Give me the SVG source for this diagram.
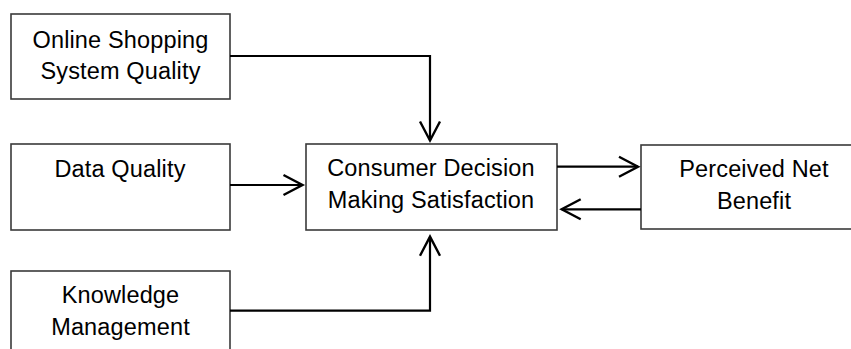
<svg xmlns="http://www.w3.org/2000/svg" width="851" height="349" viewBox="0 0 851 349">
  <defs>
    <style>
      .box { fill: #ffffff; stroke: #3a3a3a; stroke-width: 1.6; }
      .lbl { font-family: "Liberation Sans", Arial, sans-serif; font-size: 23.5px; letter-spacing: 0.15px; fill: #000000; text-anchor: middle; }
      .conn { fill: none; stroke: #000000; stroke-width: 2.2; }
    </style>
    <marker id="arrow" markerUnits="userSpaceOnUse" viewBox="-22 -12 24 24" refX="0" refY="0" markerWidth="24" markerHeight="24" orient="auto" overflow="visible">
      <path d="M-19,-10 L0,0 L-19,10" fill="none" stroke="#000000" stroke-width="2.4"/>
    </marker>
  </defs>
  <rect width="851" height="349" fill="#ffffff"/>

  <g id="online-shopping">
    <rect class="box" x="11" y="14" width="219" height="85"/>
    <text class="lbl" x="120.5" y="47.7">Online Shopping</text>
    <text class="lbl" x="120.5" y="79.3">System Quality</text>
  </g>

  <g id="data-quality">
    <rect class="box" x="11" y="144" width="219" height="86"/>
    <text class="lbl" x="120" y="176.7">Data Quality</text>
  </g>

  <g id="knowledge-management">
    <rect class="box" x="11" y="271" width="219" height="95"/>
    <text class="lbl" x="120.5" y="302.7">Knowledge</text>
    <text class="lbl" x="120.5" y="335">Management</text>
  </g>

  <g id="consumer-decision">
    <rect class="box" x="306" y="144" width="251" height="86"/>
    <text class="lbl" x="431" y="176">Consumer Decision</text>
    <text class="lbl" x="431" y="208.3">Making Satisfaction</text>
  </g>

  <g id="perceived-net-benefit">
    <rect class="box" x="641" y="145" width="225" height="84"/>
    <text class="lbl" x="754" y="177.3">Perceived Net</text>
    <text class="lbl" x="754" y="209.3">Benefit</text>
  </g>

  <g id="connectors">
    <path class="conn" d="M230,56 H430 V140.5" marker-end="url(#arrow)"/>
    <path class="conn" d="M230,185 H302.5" marker-end="url(#arrow)"/>
    <path class="conn" d="M230,310.7 H430 V236.7" marker-end="url(#arrow)"/>
    <path class="conn" d="M557,166.7 H638" marker-end="url(#arrow)"/>
    <path class="conn" d="M641,209.3 H561.7" marker-end="url(#arrow)"/>
  </g>
</svg>
